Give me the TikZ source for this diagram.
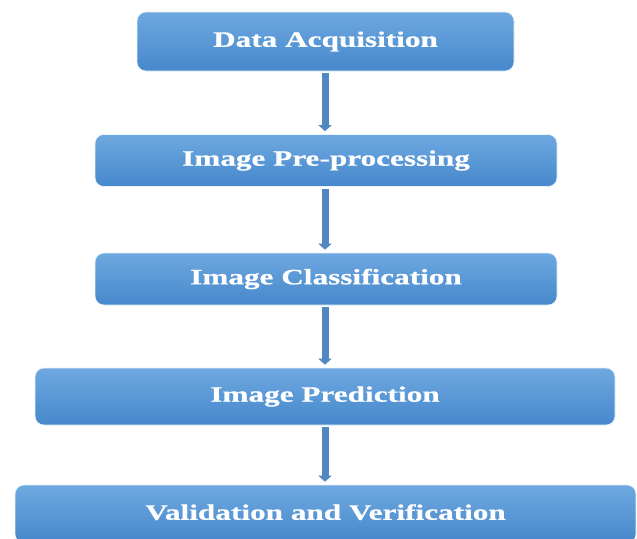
\documentclass[tikz,border=0pt]{standalone}
\usepackage{fontspec}
\newfontfamily\boxfont{Liberation Serif}[FakeStretch=1.42, FakeBold=0.6]
\usetikzlibrary{arrows.meta}
\definecolor{boxtop}{RGB}{110,168,224}
\definecolor{boxbot}{RGB}{70,136,204}
\definecolor{arrowc}{RGB}{82,136,194}
\tikzset{
  stepbox/.style={rectangle, rounded corners=9pt, top color=boxtop, bottom color=boxbot,
    draw=white!85!boxtop, line width=0.6pt, text=white,
    font=\boxfont\bfseries\fontsize{22}{25}\selectfont, inner sep=0pt},
  flow/.style={draw=arrowc, line width=7pt, -{Triangle[width=13pt,length=6pt]}, shorten <=2pt, shorten >=3pt}
}
\begin{document}
\begin{tikzpicture}[x=1pt,y=-1pt]
\useasboundingbox (0,0) rectangle (637,538);
\fill[white] (0,0) rectangle (637,538);
\node[stepbox, minimum width=377pt, minimum height=59pt] (a) at (325.5,41.5) {\raisebox{1pt}{Data Acquisition}};
\node[stepbox, minimum width=462pt, minimum height=52pt] (b) at (326,160.5) {Image Pre-processing};
\node[stepbox, minimum width=462pt, minimum height=52pt] (c) at (326,279) {Image Classification};
\node[stepbox, minimum width=580pt, minimum height=57pt] (d) at (325,396.5) {\raisebox{1pt}{Image Prediction}};
\node[stepbox, minimum width=621pt, minimum height=58pt] (e) at (325.5,514) {\raisebox{4pt}{Validation and Verification}};
\draw[flow] (a.south -| 325,0) -- (b.north -| 325,0);
\draw[flow] (b.south -| 325,0) -- (c.north -| 325,0);
\draw[flow] (c.south -| 325,0) -- (d.north -| 325,0);
\draw[flow] (d.south -| 325,0) -- (e.north -| 325,0);
\end{tikzpicture}
\end{document}
